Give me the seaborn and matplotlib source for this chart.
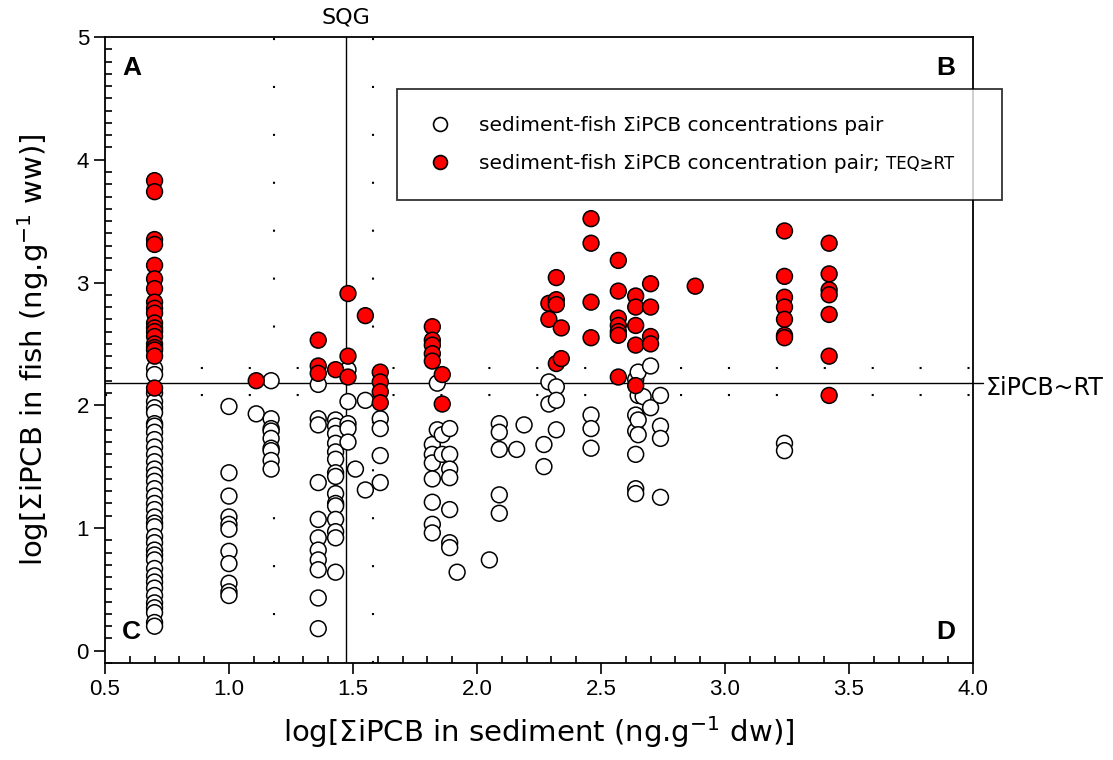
import numpy as np
import pandas as pd
import matplotlib
matplotlib.use("Agg")
import matplotlib.pyplot as plt
from matplotlib.lines import Line2D
from matplotlib.ticker import MultipleLocator, FormatStrFormatter
import seaborn as sns

# sediment levels (log) and fish values (log)
white_levels = [0.70, 1.00, 1.11, 1.17, 1.36, 1.43, 1.48, 1.51, 1.55, 1.61, 1.82, 1.84, 1.86, 1.89,
                1.92, 2.05, 2.09, 2.16, 2.19, 2.27, 2.29, 2.32, 2.46, 2.64, 2.65, 2.67, 2.70, 2.74, 3.24]
white_fish = [
    [2.30, 2.25, 2.10, 2.03, 1.98, 1.94, 1.85, 1.83, 1.78, 1.72, 1.66, 1.60, 1.54, 1.48, 1.43, 1.38,
     1.32, 1.26, 1.20, 1.15, 1.09, 1.04, 1.01, 0.93, 0.88, 0.82, 0.78, 0.74, 0.67, 0.61, 0.56, 0.51,
     0.45, 0.39, 0.35, 0.31, 0.23, 0.20],
    [1.99, 1.45, 1.26, 1.09, 1.03, 0.99, 0.81, 0.71, 0.55, 0.48, 0.45],
    [1.93],
    [2.20, 1.89, 1.81, 1.79, 1.73, 1.65, 1.63, 1.55, 1.48],
    [2.17, 1.89, 1.84, 1.37, 1.07, 0.92, 0.82, 0.74, 0.66, 0.43, 0.18],
    [1.88, 1.83, 1.77, 1.69, 1.62, 1.56, 1.45, 1.42, 1.28, 1.20, 1.18, 1.07, 0.97, 0.92, 0.64],
    [2.29, 2.03, 1.85, 1.81, 1.70],
    [1.48],
    [2.04, 1.31],
    [1.89, 1.81, 1.59, 1.37],
    [1.68, 1.60, 1.53, 1.40, 1.21, 1.03, 0.96],
    [2.18, 1.80],
    [1.76, 1.60],
    [1.81, 1.60, 1.48, 1.41, 1.15, 0.88, 0.84],
    [0.64],
    [0.74],
    [1.85, 1.78, 1.64, 1.27, 1.12],
    [1.64],
    [1.84],
    [1.68, 1.50],
    [2.19, 2.01],
    [2.15, 2.04, 1.80],
    [1.92, 1.81, 1.65],
    [2.21, 1.92, 1.79, 1.60, 1.32, 1.28],
    [2.27, 2.08, 1.88, 1.76],
    [2.07],
    [2.32, 1.98],
    [2.08, 1.83, 1.73, 1.25],
    [1.69, 1.63],
]

red_levels = [0.70, 1.11, 1.36, 1.43, 1.48, 1.55, 1.61, 1.82, 1.86, 2.29, 2.32, 2.34, 2.46, 2.57,
              2.64, 2.70, 2.88, 3.24, 3.42]
red_fish = [
    [3.83, 3.74, 3.35, 3.31, 3.14, 3.03, 2.95, 2.84, 2.79, 2.75, 2.67, 2.63, 2.60, 2.56, 2.50, 2.47,
     2.45, 2.40, 2.14],
    [2.20],
    [2.53, 2.32, 2.26],
    [2.29],
    [2.91, 2.40, 2.23],
    [2.73],
    [2.27, 2.19, 2.11, 2.02],
    [2.64, 2.53, 2.49, 2.42, 2.36],
    [2.25, 2.01],
    [2.83, 2.70],
    [3.04, 2.86, 2.82, 2.34],
    [2.63, 2.38],
    [3.52, 3.32, 2.84, 2.55],
    [3.18, 2.93, 2.71, 2.65, 2.60, 2.57, 2.23],
    [2.89, 2.80, 2.65, 2.49, 2.16],
    [2.99, 2.80, 2.56, 2.50],
    [2.97],
    [3.42, 3.05, 2.88, 2.80, 2.70, 2.57, 2.55],
    [3.32, 3.07, 2.94, 2.90, 2.74, 2.40, 2.08],
]

sqg = 1.47
sqg_band = [1.18, 1.58]
rt = 2.18
rt_band = [2.08, 2.30]

rows = []
for lv, ys in zip(white_levels, white_fish):
    rows += [(lv, y, "pair") for y in ys]
for lv, ys in zip(red_levels, red_fish):
    rows += [(lv, y, "teq") for y in ys]
df = pd.DataFrame(rows, columns=["sediment", "fish", "group"])

sns.set_style("ticks")
plt.rcParams["font.family"] = ["DejaVu Sans"]
plt.rcParams["mathtext.fontset"] = "dejavusans"
plt.rcParams["text.color"] = "black"
plt.rcParams["axes.labelcolor"] = "black"
plt.rcParams["xtick.color"] = "black"
plt.rcParams["ytick.color"] = "black"

fig = plt.figure(figsize=(11.13, 7.6), dpi=100)
ax = fig.add_axes([0.0943, 0.1276, 0.7799, 0.8237])

sns.scatterplot(data=df, x="sediment", y="fish", hue="group",
                palette={"pair": "white", "teq": "#ff0000"}, hue_order=["pair", "teq"],
                s=130, edgecolor="black", linewidth=1.1, legend=False, ax=ax, zorder=3)

ax.set_xlim(0.5, 4.0)
ax.set_ylim(-0.1, 5.0)

# reference lines
dots = (0, (1.0, 22))
ax.axvline(sqg, color="black", lw=1.0, zorder=2)
for v in sqg_band:
    ax.axvline(v, color="black", lw=1.5, ls=dots, zorder=1)
ax.plot([0.5, 4.04], [rt, rt], color="black", lw=1.0, zorder=2, clip_on=False)
for h in rt_band:
    ax.axhline(h, color="black", lw=1.5, ls=dots, zorder=1)

ax.text(sqg, 5.08, "SQG", ha="center", va="bottom", fontsize=16)
ax.text(4.05, rt - 0.04, "ΣiPCB~RT", ha="left", va="center", fontsize=17)

lab = dict(fontsize=19, fontweight="bold", family="Liberation Sans")
ax.text(0.57, 4.75, "A", ha="left", va="center", **lab)
ax.text(3.93, 4.75, "B", ha="right", va="center", **lab)
ax.text(0.57, 0.15, "C", ha="left", va="center", **lab)
ax.text(3.93, 0.15, "D", ha="right", va="center", **lab)

ax.set_xlabel("log[$\\Sigma$iPCB in sediment (ng.g$^{-1}$ dw)]", fontsize=21, labelpad=10)
ax.set_ylabel("log[$\\Sigma$iPCB in fish (ng.g$^{-1}$ ww)]", fontsize=21, labelpad=18)

ax.xaxis.set_major_locator(MultipleLocator(0.5))
ax.xaxis.set_minor_locator(MultipleLocator(0.1))
ax.xaxis.set_major_formatter(FormatStrFormatter("%.1f"))
ax.yaxis.set_major_locator(MultipleLocator(1))
ax.yaxis.set_minor_locator(MultipleLocator(0.1))
ax.tick_params(which="major", direction="out", length=8, width=1.2, labelsize=16)
ax.tick_params(which="minor", direction="in", length=5, width=1.2)
ax.tick_params(top=False, right=False, which="both")
for t in ax.get_xticklabels() + ax.get_yticklabels():
    t.set_family("Liberation Sans")
for sp in ax.spines.values():
    sp.set_linewidth(1.3)
    sp.set_color("black")

handles = [
    Line2D([], [], marker="o", ls="", markersize=10, markerfacecolor="white",
           markeredgecolor="black", markeredgewidth=1.2),
    Line2D([], [], marker="o", ls="", markersize=10, markerfacecolor="#ff0000",
           markeredgecolor="black", markeredgewidth=1.2),
]
labels = ["sediment-fish ΣiPCB concentrations pair",
          "sediment-fish ΣiPCB concentration pair;"]
leg = fig.legend(handles, labels, loc="upper left", mode="expand",
                 bbox_to_anchor=(0.357, 0.737, 0.543, 0.146), bbox_transform=fig.transFigure,
                 borderaxespad=0, fontsize=14.5, frameon=True, fancybox=False, edgecolor="black",
                 borderpad=1.35, labelspacing=0.95, handletextpad=1.2, handlelength=1.5)
leg.get_frame().set_linewidth(1.3)
leg.set_zorder(5)

fig.canvas.draw()
bb = leg.get_texts()[1].get_window_extent(renderer=fig.canvas.get_renderer())
fig.text((bb.x1 + 6) / fig.bbox.width, (bb.y0 + 4.5) / fig.bbox.height, "TEQ≥RT",
         fontsize=12, ha="left", va="baseline", zorder=6)

fig.savefig("out.png", dpi=100)
plt.close(fig)
